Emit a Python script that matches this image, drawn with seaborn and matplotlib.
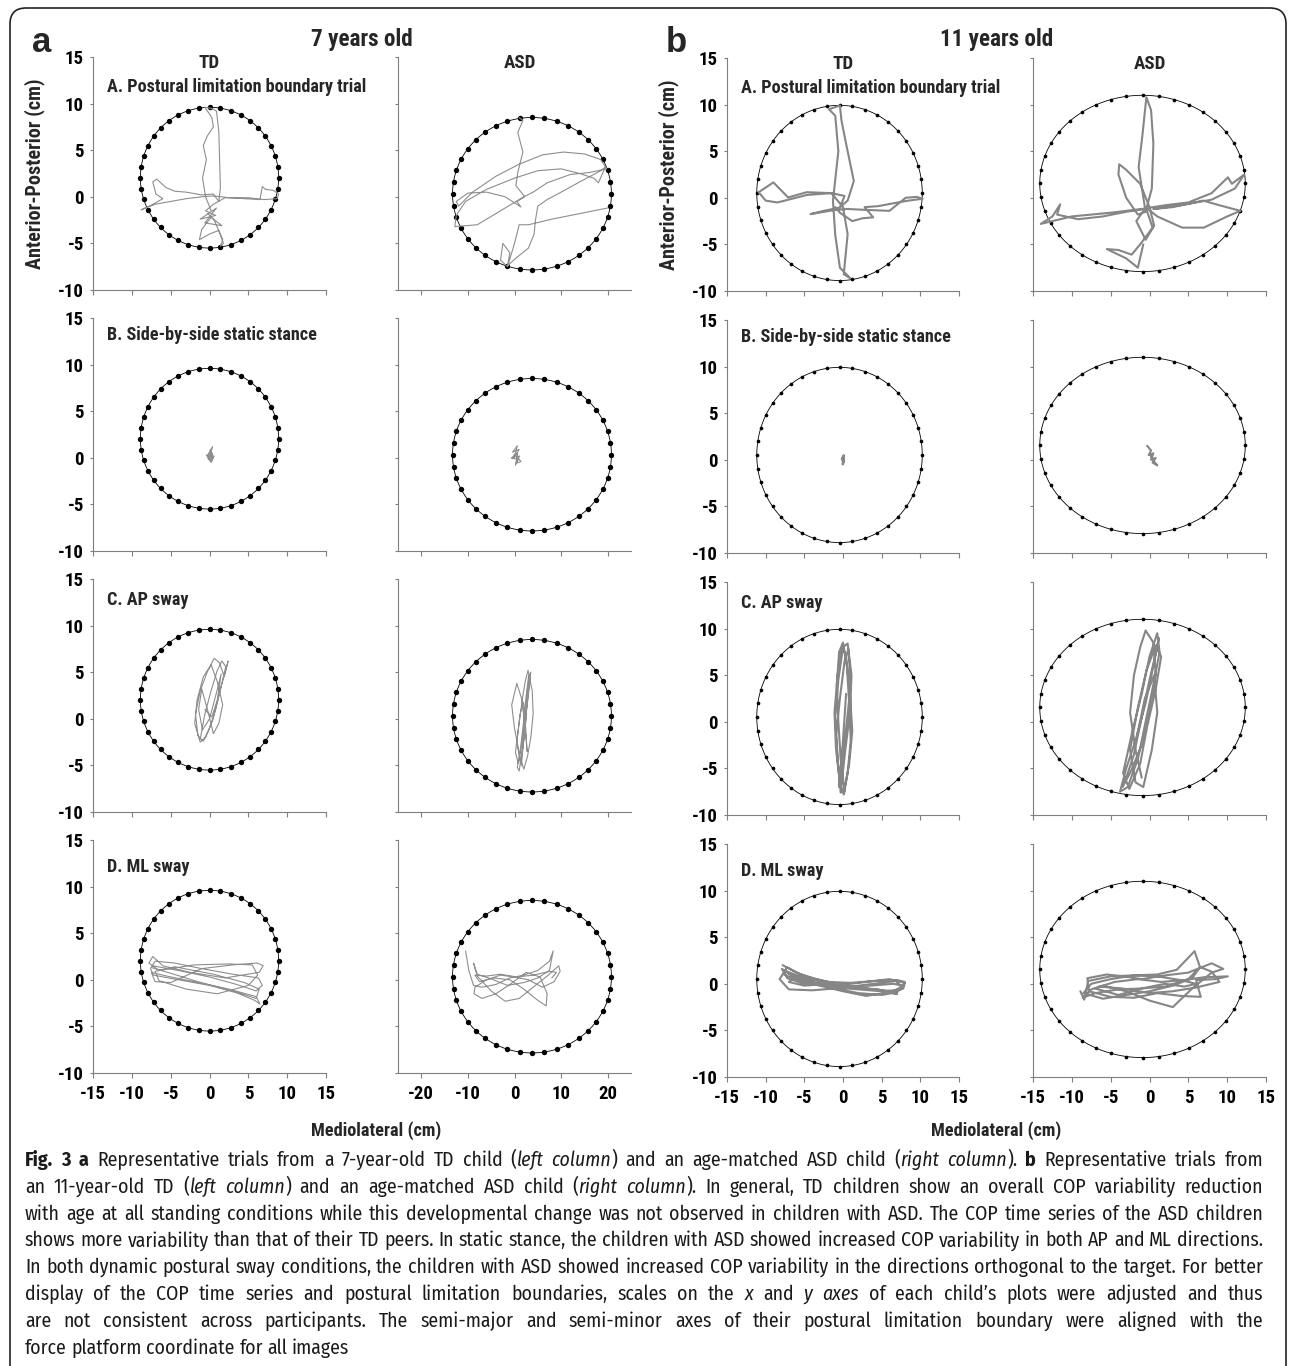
import numpy as np
import matplotlib
matplotlib.use("Agg")
import matplotlib.pyplot as plt
import seaborn as sns
from matplotlib import font_manager as fm
from matplotlib.patches import FancyBboxPatch
from matplotlib.transforms import IdentityTransform

# ---------------- data ----------------
row_titles = ["A. Postural limitation boundary trial", "B. Side-by-side static stance",
              "C. AP sway", "D. ML sway"]
col_titles = ["TD", "ASD"]
age_titles = ["7 years old", "11 years old"]
panel_letters = ["a", "b"]

# postural limitation boundary ellipses: a-TD, a-ASD, b-TD, b-ASD
ell_cx = [0.0, 3.75, -0.45, -0.9]
ell_cy = [2.05, 0.33, 0.52, 1.54]
ell_rx = [8.9, 17.05, 10.7, 13.23]
ell_ry = [7.55, 8.18, 9.4, 9.46]

yticks = [-10, -5, 0, 5, 10, 15]
xticks_std = [-15, -10, -5, 0, 5, 10, 15]
xticks_wide = [-20, -10, 0, 10, 20]

# ---- 7 years old, TD ----
a_td_ax = [0.2, -0.5, -0.9, -0.4, -0.8, -0.3, 0.5, 0.3, -0.6, 0.2, 0.9, 1.2, 1.3, 1.4, 1.2, 0.5, -1.0, -3.0, -4.5, -5.6, -6.8, -7.3, -6.9, -6.0, -7.5, -8.3, -8.8, -7.0, -5.0, -3.0, -1.0, 0.5, 2.5, 4.5, 6.5, 6.8, 7.2, 8.2, 8.9, 8.7, 7.0, 5.0, 2.0, 0.5, -0.5, 0.8, -1.2, 0.9, -0.6, 1.6, 0.2, -1.0, -1.3, 0.0, 1.2, 1.8, 1.4, 1.7, 0.6, -0.2]
a_td_ay = [-1.5, 0.0, 2.0, 4.0, 5.5, 6.5, 7.5, 8.5, 9.6, 9.5, 9.2, 7.0, 4.0, 1.0, -0.5, 0.3, 0.2, 0.5, 0.6, 1.0, 1.9, 1.6, 0.3, -0.2, -0.9, -1.2, -1.4, -0.8, -0.5, -0.2, 0.0, 0.1, -0.1, -0.2, -0.3, 1.1, 0.8, 0.7, 0.3, -0.2, -0.3, -0.1, -0.1, -0.8, -1.5, -2.0, -2.4, -1.2, -2.8, -3.1, -2.2, -3.5, -4.6, -4.0, -3.6, -5.0, -5.3, -4.6, -2.5, -1.8]
a_td_bx = [0.0, 0.2, -0.3, 0.4, 0.1, 0.3, -0.2, 0.6, 0.2, -0.4, 0.5, 0.1, 0.3, -0.1, 0.4, 0.0]
a_td_by = [0.0, 0.6, 0.2, 1.2, 0.4, -0.3, -0.1, 0.2, -0.5, 0.3, 0.0, 0.9, -0.2, 0.1, 0.5, 0.0]
a_td_cx = [-1.2, -0.6, 0.2, 1.0, 1.6, 2.1, 1.5, 0.8, 0.0, -0.8, -1.5, -1.8, -1.2, -0.3, 0.6, 1.3, 1.9, 2.4, 2.0, 1.2, 0.4, -0.5, -1.2, -1.9, -1.6, -0.8, 0.2, 1.0, 1.7, 1.2, 0.5, -0.2, -1.0, -1.4, -0.9, 0.0, 0.9, 1.5, 1.0, 0.3, -0.6]
a_td_cy = [-2.2, 0.5, 3.0, 5.2, 6.2, 5.6, 3.5, 1.0, -1.0, -2.4, -1.8, 0.5, 3.0, 5.0, 6.5, 6.0, 4.5, 6.2, 5.0, 2.5, -0.2, -2.0, -2.5, -0.5, 2.0, 4.5, 5.8, 4.0, 1.5, -0.5, -1.6, 0.8, 3.2, 1.0, -1.2, 0.0, 2.8, 4.8, 2.0, 0.2, 1.0]
a_td_dx = [-7.3, -4.0, 0.0, 3.5, 6.0, 6.8, 6.3, 3.0, -1.0, -4.5, -7.0, -7.6, -7.2, -4.0, 0.0, 3.5, 5.8, 6.5, 6.0, 2.5, -2.0, -5.5, -7.5, -7.0, -5.0, -1.0, 3.0, 6.2, 6.9, 6.4, 2.0, -2.5, -6.0, -7.3, -7.8, -6.5, -2.0, 2.5, 5.5, 6.2, 5.0, 1.0, -3.0, -6.5, -7.0, -4.5, 0.5, 4.5, 6.4, 6.0, 3.0, -1.5, -5.0, -7.4]
a_td_dy = [1.5, 1.0, 0.3, -0.5, -1.2, -0.6, 0.2, 0.6, 1.2, 1.8, 2.0, 1.2, 0.5, 0.0, -0.6, -1.4, -2.2, -2.6, -1.8, -1.0, -0.2, 0.4, 0.8, -0.2, -0.3, 1.2, 1.6, 1.8, 1.5, 0.8, 0.2, 0.8, 1.5, 2.5, 1.8, 1.0, 1.6, 1.7, 1.6, 0.5, -0.6, -1.5, -1.0, -0.1, 0.9, 1.4, 0.6, -0.3, -1.0, -2.0, -1.2, -0.2, 0.7, 1.3]

# ---- 7 years old, ASD ----
a_asd_ax = [1.0, 1.8, 0.7, 1.8, 0.7, 0.3, 2.2, 0.5, 1.4, -2.0, -6.0, -10.0, -12.5, -12.0, -9.0, -4.0, 1.0, 6.0, 10.5, 15.0, 18.5, 19.8, 16.0, 12.0, 7.0, 4.0, 2.0, -3.0, -8.0, -12.8, -12.5, -10.5, -6.0, 0.0, 5.0, 10.0, 14.0, 17.0, 18.0, 19.5, 18.5, 14.0, 10.0, 7.0, 5.0, 4.5, 4.2, 3.0, 0.5, -1.5, -1.0, -2.5, -3.0, -1.5, 0.0, 1.0, 3.0, 8.0, 14.0, 20.0]
a_asd_ay = [8.5, 8.2, 6.9, 4.8, 2.6, 1.2, 0.0, -0.5, -1.1, 0.0, 0.5, 0.4, -0.5, -1.0, 0.5, 2.2, 3.5, 4.5, 4.8, 4.6, 4.0, 3.0, 2.6, 2.4, 1.5, 0.5, 0.0, -1.5, -3.0, -3.2, -2.0, -0.5, 0.8, 2.0, 2.8, 3.0, 2.5, 2.0, 1.5, 3.2, 2.8, 1.6, 0.5, -0.3, -1.0, -2.5, -4.0, -5.5, -6.5, -7.4, -6.0, -5.0, -6.8, -7.5, -5.0, -3.0, -3.0, -2.4, -1.8, -1.2]
a_asd_bx = [0.0, 0.6, -0.4, 1.0, 0.2, -0.7, 0.8, 0.3, 1.4, 0.0, -0.5, 0.7, 0.2, 1.1, 0.4]
a_asd_by = [0.0, 1.3, 0.6, 0.9, 0.2, 0.0, -0.2, -0.6, -0.4, 0.4, -0.1, 0.5, -0.8, 0.2, 0.0]
a_asd_cx = [1.5, 2.0, 2.6, 3.2, 3.5, 3.0, 2.4, 1.8, 1.2, 0.6, 1.0, 1.8, 2.5, 3.0, 3.3, 2.8, 2.2, 1.6, 0.8, 0.2, 0.9, 1.7, 2.3, 2.9, 3.8, 4.0, 3.5, 2.8, 2.0, 1.2, 0.0, -0.6, 0.5, 1.5, 2.2, 2.7, 2.4, 1.9, 1.2, 0.5, 1.3, 2.1, 2.6]
a_asd_cy = [-5.0, -2.0, 1.0, 3.5, 5.0, 4.5, 2.0, -1.0, -3.5, -5.2, -5.6, -3.0, 0.5, 3.0, 4.6, 3.2, 0.0, -2.8, -4.8, -3.6, -0.8, 2.2, 4.0, 5.2, 3.0, 0.5, -2.0, -4.0, -5.4, -4.2, -1.0, 1.5, 3.8, 2.2, -0.5, -3.5, -1.0, 1.8, 0.5, -2.5, -4.8, -2.0, 0.6]
a_asd_dx = [-10.5, -9.8, -8.8, -7.0, -4.0, -1.0, 2.0, 5.0, 7.5, 8.3, 7.5, 5.0, 2.0, -1.5, -5.0, -8.0, -8.8, -8.0, -5.0, -2.0, 1.0, 4.0, 7.0, 9.5, 9.8, 8.5, 6.0, 3.0, 0.0, -3.0, -6.0, -8.5, -8.7, -7.0, -4.0, -1.0, 2.5, 5.5, 7.0, 6.8, 5.0, 2.0, -1.0, -4.5, -7.5, -8.5, -6.0, -3.0, 0.5, 4.0, 7.5, 9.0, 8.0]
a_asd_dy = [3.1, 1.0, -0.6, -0.8, -0.5, 0.2, 0.5, 1.0, 2.0, 3.1, 1.0, 0.2, -0.3, -0.6, 0.1, 0.6, 1.8, 0.4, -1.2, -2.3, -2.0, -0.8, 0.4, 1.5, 0.9, -0.2, -0.8, 0.0, 0.3, 0.5, 0.0, -0.8, -1.5, -2.0, -1.5, -0.5, 0.8, 0.3, -1.5, -2.8, -2.2, -1.0, 0.0, 0.2, -0.2, 0.5, 0.4, 0.6, 0.3, 0.5, 0.9, 0.8, 0.2]

# ---- 11 years old, TD ----
b_td_ax = [-0.4, 0.6, 1.4, 0.4, -0.2, -0.4, -1.8, -1.0, -0.6, -1.3, -1.0, -0.4, 0.9, 0.1, 0.6, 0.0, -1.5, -4.7, -7.1, -9.0, -10.9, -10.0, -8.5, -7.5, -4.7, -1.5, 0.2, -0.4, -2.5, -4.2, -1.0, 0.6, 3.0, 6.0, 8.1, 9.5, 10.3, 8.5, 7.1, 4.5, 2.8, 3.9, 2.5, 1.2, -0.4, -1.0]
b_td_ay = [-1.0, -0.3, 1.8, 5.8, 8.3, 9.9, 9.5, 8.8, 5.0, -0.3, -4.0, -7.5, -8.6, -8.2, -3.9, -1.0, 0.5, 0.6, 0.04, 1.65, 0.6, -0.3, -0.5, -0.3, 0.3, 0.5, 0.2, -1.05, -1.4, -1.75, -1.3, -1.2, -1.3, -1.4, 0.0, 0.1, -0.1, -0.3, -0.5, -0.9, -1.0, -2.1, -2.2, -2.5, -1.6, -1.0]
b_td_bx = [0.0, 0.1, -0.1, 0.15, -0.05, 0.1, -0.15, 0.05, 0.0]
b_td_by = [0.0, 0.5, 0.2, -0.1, -0.5, 0.3, 0.1, -0.3, 0.0]
b_td_cx = [0.2, -0.3, -0.6, -0.8, -0.5, 0.0, 0.5, 0.8, 1.0, 0.6, 0.1, -0.4, -0.9, -1.1, -0.7, -0.1, 0.4, 0.9, 1.2, 0.8, 0.2, -0.3, -0.7, -1.0, -0.6, 0.0, 0.6, 1.1, 0.9, 0.3, -0.2, -0.6, -0.9, -0.4, 0.2, 0.7, 1.0, 0.5, -0.1, -0.5, 0.0, 0.4]
b_td_cy = [-7.5, -4.0, 0.0, 4.0, 7.5, 8.5, 6.0, 2.0, -2.0, -5.5, -7.8, -6.5, -3.0, 1.0, 5.0, 8.2, 7.0, 3.0, -1.0, -4.5, -7.2, -7.6, -4.0, 0.5, 4.5, 8.0, 8.4, 5.0, 1.0, -3.0, -6.8, -5.0, -1.5, 2.5, 6.5, 7.8, 4.0, 0.0, -4.0, -7.0, -2.0, 3.0]
b_td_dx = [-7.8, -6.0, -3.0, 0.0, 3.0, 5.5, 7.5, 8.0, 7.0, 4.0, 1.0, -2.0, -5.0, -7.5, -8.2, -7.0, -4.0, -1.0, 2.0, 5.0, 7.0, 7.8, 6.5, 3.5, 0.5, -2.5, -5.5, -7.3, -7.6, -6.0, -3.0, 0.0, 3.0, 6.0, 7.8, 8.0, 6.0, 3.0, 0.0, -3.0, -6.0, -7.0, -5.0, -2.0, 1.5, 4.5, 7.0, 5.0, 2.0, -1.0, -4.0, -6.5, -7.9, -7.2, -5.0, -2.0, 1.0, 4.0, 6.5, 7.6, 6.8, 4.0, 1.0, -2.0, -5.0, -7.0]
b_td_dy = [2.0, 1.2, 0.3, -0.3, -0.5, -0.8, -0.6, 0.2, 0.4, 0.3, 0.1, 0.2, 0.6, 1.4, 0.5, -0.6, -0.7, -0.5, -1.0, -1.2, -0.9, -0.2, 0.0, -0.2, -0.3, 0.3, 1.0, 1.8, 1.0, 0.4, -0.2, -0.8, -1.3, -0.9, -0.5, 0.1, 0.5, 0.2, -0.1, 0.4, 0.8, 0.2, -0.2, 0.0, -0.4, -0.6, -1.1, -0.8, -0.6, -0.4, 0.0, 0.8, 1.6, 0.6, 0.0, -0.2, -0.4, -0.6, -0.8, -0.3, 0.3, 0.0, -0.3, -0.1, 0.4, 1.1]

# ---- 11 years old, ASD ----
b_asd_ax = [-0.6, -1.4, -0.9, -0.4, 0.2, 0.5, 0.3, -0.5, -1.5, -3.0, -4.0, -3.9, -3.0, -1.2, 0.0, 0.6, -0.5, -1.7, -0.6, -3.0, -6.0, -9.2, -11.9, -11.5, -12.5, -14.0, -10.0, -5.0, -1.0, 2.0, 5.0, 8.0, 10.1, 10.6, 12.2, 11.0, 8.0, 4.0, 0.5, 3.0, 6.9, 9.0, 11.7, 10.0, 7.0, 4.2, 1.0, -0.5, 0.4, -1.2, -2.3, -4.0, -5.5, -3.0, -1.5, -0.8]
b_asd_ay = [-1.0, 3.3, 6.8, 10.8, 9.4, 5.8, 1.0, -1.5, -1.8, 0.0, 2.5, 3.6, 3.0, 1.5, -1.0, -3.0, -4.5, -2.5, -1.2, -1.5, -2.0, -2.3, -1.8, -0.7, -2.0, -2.8, -2.0, -1.6, -1.2, -0.8, -0.5, 0.5, 2.2, 1.5, 2.5, 1.0, -0.2, -0.8, -1.2, -1.0, -0.3, -0.8, -1.4, -2.0, -3.2, -3.2, -2.0, -1.0, -3.2, -5.0, -6.1, -5.6, -5.5, -6.5, -7.5, -5.0]
b_asd_bx = [-0.3, 0.2, -0.1, 0.5, 0.2, 0.8, 0.4, 1.0, 0.6, 0.1, 0.3]
b_asd_by = [1.5, 1.0, 0.5, 0.7, 0.0, 0.2, -0.3, -0.6, -0.2, 0.6, 0.2]
b_asd_cx = [-1.0, -1.8, -2.5, -2.0, -1.2, -0.5, 0.5, 0.8, 0.0, -1.0, -2.5, -3.5, -3.2, -2.0, -1.0, 0.0, 1.0, 1.2, 0.5, -0.5, -1.8, -3.0, -3.8, -2.8, -1.5, -0.5, 0.5, 1.3, 1.0, 0.0, -1.0, -2.2, -3.4, -2.6, -1.2, -0.3, 0.8, 1.5, 0.8, -0.4, -1.5, -2.5, -1.8, -0.8, 0.3, 1.0, 0.6, -0.6, -1.6]
b_asd_cy = [-6.0, -3.0, 1.0, 5.0, 8.0, 9.8, 8.5, 5.0, 1.0, -2.5, -5.5, -7.0, -6.5, -3.5, 0.5, 4.5, 8.0, 9.0, 6.0, 2.0, -2.0, -5.0, -7.5, -7.0, -4.0, 0.0, 4.0, 7.5, 9.5, 7.0, 3.0, -1.0, -5.5, -7.2, -4.5, -0.5, 3.5, 7.0, 8.2, 5.5, 1.5, -3.0, -6.5, -7.0, -3.0, 1.0, 5.0, 2.5, -1.5]
b_asd_dx = [-8.9, -8.4, -7.9, -5.0, -2.0, 1.0, 3.5, 5.8, 6.5, 5.0, 2.0, -1.0, -4.0, -7.0, -8.6, -7.5, -4.5, -1.5, 1.5, 4.5, 7.0, 10.1, 8.5, 6.0, 6.6, 4.0, 1.0, -2.0, -5.0, -7.8, -8.0, -5.5, -3.3, -1.0, 2.0, 5.0, 8.0, 9.5, 8.0, 5.5, 3.0, 0.0, -3.0, -6.0, -7.0, -4.0, -1.0, 2.0, 4.5, 6.0, 6.0, 4.0, 1.0, -2.0, -5.0, -7.5, -8.5, -6.0, -3.0, 0.0, 3.0, 5.5, 6.5, 8.0, 9.0, 6.0, 3.0, 0.0, -3.5, -6.5]
b_asd_dy = [-0.8, -1.7, 0.3, 0.8, 0.9, 1.0, 1.5, 3.5, 1.8, 0.5, -0.3, -0.5, -0.6, -1.0, -1.5, -0.6, 0.2, 0.5, 0.2, 0.4, 0.7, 0.8, 0.5, 0.4, -1.4, -1.3, -1.0, -1.5, -1.4, -0.8, 0.6, 1.0, 0.8, 0.5, 0.9, 1.2, 2.2, 1.6, 1.2, -0.5, -2.5, -1.8, -0.8, -0.2, -0.5, -1.2, -0.5, 0.0, -0.3, 0.0, 0.0, 0.4, 0.8, 0.9, 0.5, 0.0, -1.0, -1.6, -1.2, -0.8, -0.2, 0.6, 1.8, 1.3, 0.2, -0.4, -0.8, -1.0, -0.5, -0.3]

caption_lines = [
    [("Fig. 3 a", "b"), (" Representative trials from a 7-year-old TD child (", "r"), ("left column", "i"),
     (") and an age-matched ASD child (", "r"), ("right column", "i"), ("). ", "r"), ("b", "b"),
     (" Representative trials from", "r")],
    [("an 11-year-old TD (", "r"), ("left column", "i"), (") and an age-matched ASD child (", "r"),
     ("right column", "i"), ("). In general, TD children show an overall COP variability reduction", "r")],
    [("with age at all standing conditions while this developmental change was not observed in children with ASD. The COP time series of the ASD children", "r")],
    [("shows more variability than that of their TD peers. In static stance, the children with ASD showed increased COP variability in both AP and ML directions.", "r")],
    [("In both dynamic postural sway conditions, the children with ASD showed increased COP variability in the directions orthogonal to the target. For better", "r")],
    [("display of the COP time series and postural limitation boundaries, scales on the ", "r"), ("x", "i"),
     (" and ", "r"), ("y axes", "i"), (" of each child\u2019s plots were adjusted and thus", "r")],
    [("are not consistent across participants. The semi-major and semi-minor axes of their postural limitation boundary were aligned with the", "r")],
    [("force platform coordinate for all images", "r")],
]

children_traces = [
    [(a_td_ax, a_td_ay), (a_td_bx, a_td_by), (a_td_cx, a_td_cy), (a_td_dx, a_td_dy)],
    [(a_asd_ax, a_asd_ay), (a_asd_bx, a_asd_by), (a_asd_cx, a_asd_cy), (a_asd_dx, a_asd_dy)],
    [(b_td_ax, b_td_ay), (b_td_bx, b_td_by), (b_td_cx, b_td_cy), (b_td_dx, b_td_dy)],
    [(b_asd_ax, b_asd_ay), (b_asd_bx, b_asd_by), (b_asd_cx, b_asd_cy), (b_asd_dx, b_asd_dy)],
]

# ---------------- fonts ----------------
_fl = fm.fontManager.ttflist


def _w(f):
    w = f.weight
    if isinstance(w, str):
        w = fm.weight_dict.get(w, 400)
    return w


def pick(prefs, bold=False, italic=False):
    for name in prefs:
        faces = [f for f in _fl if f.name == name]
        if not faces:
            continue
        if bold and not any(_w(f) >= 600 for f in faces):
            continue
        if italic and not any(f.style in ("italic", "oblique") for f in faces):
            continue
        return name
    return "DejaVu Sans"


LAB = pick(["Liberation Sans Narrow", "Arial Narrow", "Roboto Condensed", "PT Sans Narrow",
            "Pragati Narrow", "Asap Condensed", "Barlow Semi Condensed"], bold=True)
CAP = pick(["Fira Sans Condensed", "Asap Condensed", "Barlow Semi Condensed", "Roboto Condensed",
            "Encode Sans Condensed"], bold=True, italic=True)
WIDE = pick(["Liberation Sans", "Arimo"], bold=True)
LABF = [LAB, "DejaVu Sans"]
CAPF = [CAP, "DejaVu Sans"]
WIDEF = [WIDE, "DejaVu Sans"]

# ---------------- style ----------------
W, H = 1293, 1366
sns.set_theme(style="ticks")
plt.rcParams["font.family"] = LABF
plt.rcParams["font.weight"] = "bold"
plt.rcParams["axes.unicode_minus"] = False
SPINE = "#7f7f7f"

fig = plt.figure(figsize=(W / 100, H / 100), dpi=100)
fig.patch.set_facecolor("white")
renderer = fig.canvas.get_renderer()


def fx(x):
    return x / W


def fy(y):
    return 1 - y / H


def measure(s, size, family, weight="bold", style="normal"):
    t = fig.text(0, 0, s, fontsize=size, family=family, fontweight=weight, fontstyle=style)
    w = t.get_window_extent(renderer=renderer).width
    t.remove()
    return w


# font sizes fitted to the reference text widths (pixels)
S_TITLE = min(14.0, 10 * 260 / measure(row_titles[0], 10, LABF))
S_COL = min(15.0, 10 * 21 / measure("TD", 10, LABF))
S_TICK = 13.5
S_XL = min(15.0, 10 * 130 / measure("Mediolateral (cm)", 10, LABF))
S_YL = min(16.0, 10 * 190 / measure("Anterior-Posterior (cm)", 10, LABF))
S_AGE = min(18.0, 10 * 102 / measure(age_titles[0], 10, LABF))

# layout (pixels): per panel column spans, first row top, row step, row height
panel_cols = [[(93, 326), (398, 631)], [(727, 959), (1033, 1266)]]
panel_top = [57, 58]
panel_step = [261, 262]
panel_h = 233
title_off = [30, 17, 21, 27]

child_specs = [
    dict(p=0, c=0, xlim=(-15, 15), xt=xticks_std, lw=0.8, col="#8e8e8e", s=15),
    dict(p=0, c=1, xlim=(-25, 25), xt=xticks_wide, lw=0.8, col="#8e8e8e", s=15),
    dict(p=1, c=0, xlim=(-15, 15), xt=xticks_std, lw=1.5, col="#868686", s=7),
    dict(p=1, c=1, xlim=(-15, 15), xt=xticks_std, lw=1.5, col="#868686", s=7),
]

theta_line = np.linspace(0, 2 * np.pi, 361)
theta_dots = np.deg2rad(np.arange(0, 360, 9))

for k, spec in enumerate(child_specs):
    p, c = spec["p"], spec["c"]
    x0, x1 = panel_cols[p][c]
    ex = ell_cx[k] + ell_rx[k] * np.cos(theta_line)
    ey = ell_cy[k] + ell_ry[k] * np.sin(theta_line)
    dx = ell_cx[k] + ell_rx[k] * np.cos(theta_dots)
    dy = ell_cy[k] + ell_ry[k] * np.sin(theta_dots)
    for r in range(4):
        top = panel_top[p] + panel_step[p] * r
        ax = fig.add_axes([fx(x0), fy(top + panel_h), (x1 - x0) / W, panel_h / H])
        sns.lineplot(x=ex, y=ey, sort=False, estimator=None, color="black", linewidth=0.6, ax=ax)
        sns.scatterplot(x=dx, y=dy, s=spec["s"], color="black", linewidth=0, ax=ax, zorder=3)
        tx, ty = children_traces[k][r]
        sns.lineplot(x=tx, y=ty, sort=False, estimator=None, color=spec["col"],
                     linewidth=spec["lw"], ax=ax, zorder=4)
        ax.set_xlim(*spec["xlim"])
        ax.set_ylim(-10, 15)
        ax.set_xticks(spec["xt"])
        ax.set_yticks(yticks)
        ax.set_xlabel("")
        ax.set_ylabel("")
        sns.despine(ax=ax)
        for sp in ("left", "bottom"):
            ax.spines[sp].set_color(SPINE)
            ax.spines[sp].set_linewidth(0.8)
        ax.tick_params(axis="x", direction="out", length=3.6, width=0.8, color=SPINE,
                       pad=5, labelsize=S_TICK, labelcolor="black", labelbottom=(r == 3))
        ax.tick_params(axis="y", direction="out", length=2.5, width=0.8, color=SPINE,
                       pad=4, labelsize=S_TICK, labelcolor="black", labelleft=(c == 0))
        ax.set_facecolor("none")
        if c == 0:
            fig.text(fx(x0 + 14), fy(top + title_off[r]), row_titles[r], ha="left", va="center",
                     fontsize=S_TITLE, fontweight="bold", family=LABF)
        if r == 0:
            fig.text(fx((x0 + x1) / 2 + (5 if (p == 0 and c == 1) else 0)), fy(top + 6),
                     col_titles[c], ha="center", va="center", fontsize=S_COL,
                     fontweight="bold", family=LABF)

# panel letters, age titles, axis labels
for p in range(2):
    left = panel_cols[p][0][0]
    right = panel_cols[p][1][1]
    fig.text(fx(left - 61), fy(52), panel_letters[p], ha="left", va="baseline",
             fontsize=25, fontweight="bold", family=WIDEF)
    fig.text(fx((left + right) / 2), fy(46), age_titles[p], ha="center", va="baseline",
             fontsize=S_AGE, fontweight="bold", family=LABF)
    fig.text(fx(left - 58), fy(panel_top[p] + panel_h / 2), "Anterior-Posterior (cm)",
             rotation=90, ha="center", va="center", fontsize=S_YL, fontweight="bold", family=LABF)
    fig.text(fx((left + right) / 2 + (14 if p == 0 else 0)), fy(1131), "Mediolateral (cm)",
             ha="center", va="center", fontsize=S_XL, fontweight="bold", family=LABF)

# rounded frame
frame = FancyBboxPatch((10, -60), 1276, H - 8 + 60, boxstyle="round,pad=0,rounding_size=16",
                       transform=IdentityTransform(), fill=False, edgecolor="#222222",
                       linewidth=1.2)
fig.add_artist(frame)

# ---------------- caption (justified) ----------------


def kw(st):
    return dict(weight="bold" if st == "b" else "normal",
                style="italic" if st == "i" else "normal")


def split_words(segs):
    words, cur = [], []
    for text, st in segs:
        parts = text.split(" ")
        for i, part in enumerate(parts):
            if i > 0 and cur:
                words.append(cur)
                cur = []
            if part:
                cur.append((part, st))
    if cur:
        words.append(cur)
    return words


cap_left, cap_right = 25, 1263
target = cap_right - cap_left
all_words = [split_words(l) for l in caption_lines]


def natural_widths(sz):
    sp = measure("x x", sz, CAPF, "normal") - measure("xx", sz, CAPF, "normal")
    res = []
    for words in all_words:
        ww = [sum(measure(t, sz, CAPF, **kw(st)) for t, st in w) for w in words]
        res.append((ww, sp))
    return res


size = 14.0
nat = natural_widths(size)
maxw = max(sum(ww) + sp * (len(ww) - 1) for ww, sp in nat)
size = min(17.0, size * target * 0.995 / maxw)
nat = natural_widths(size)

for i, words in enumerate(all_words):
    ww, sp = nat[i]
    last = i == len(all_words) - 1
    gap = sp if last else (target - sum(ww)) / (len(ww) - 1)
    x = cap_left
    base = 1166 + 26.8 * i
    for w, wwid in zip(words, ww):
        xx = x
        for t, st in w:
            fig.text(fx(xx), fy(base), t, ha="left", va="baseline", fontsize=size,
                     family=CAPF, color="#1a1a1a", fontweight=kw(st)["weight"],
                     fontstyle=kw(st)["style"])
            xx += measure(t, size, CAPF, **kw(st))
        x += wwid + gap

fig.savefig("out.png", dpi=100, facecolor="white")
